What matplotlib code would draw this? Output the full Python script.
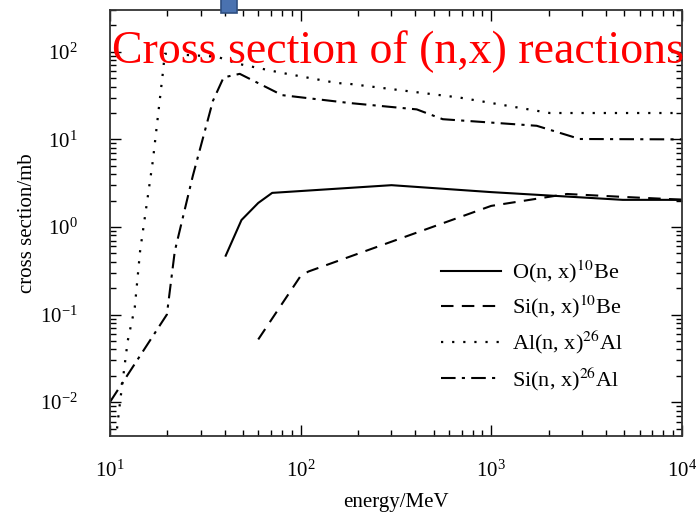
import matplotlib
matplotlib.use("Agg")
import matplotlib.pyplot as plt
from matplotlib.patches import Rectangle

plt.rcParams['font.family'] = ['Liberation Serif', 'DejaVu Serif']
plt.rcParams['mathtext.fontset'] = 'stix'

# O(n,x)10Be
o_be_e = [40.5, 49, 60, 71, 300, 1000, 4900, 10000]
o_be_s = [0.47, 1.2, 1.88, 2.45, 3.0, 2.5, 2.04, 2.04]

# Si(n,x)10Be
si_be_e = [60, 100, 110, 1000, 2500, 5000, 10000]
si_be_s = [0.052, 0.275, 0.31, 1.74, 2.38, 2.2, 2.05]

# Al(n,x)26Al
al_al_e = [10.9, 11.3, 12.4, 13.5, 14.4, 16.8, 19.0, 19.4, 36.4, 47, 78, 155, 181, 684, 2030, 10000]
al_al_s = [0.005, 0.01, 0.05, 0.12, 0.53, 5.7, 60, 95, 88, 73, 58, 44, 43, 30, 20, 20]

# Si(n,x)26Al
si_al_e = [10, 19.9, 21.9, 27.2, 34.7, 39.5, 48, 80, 181, 407, 557, 1733, 2917, 10000]
si_al_s = [0.01, 0.1, 0.53, 3.8, 27.5, 51, 56, 32, 26, 22, 17, 14.3, 10.1, 10]

fig = plt.figure(figsize=(7, 5.13), dpi=100)
ax = fig.add_axes([0.157, 0.150, 0.817, 0.8305])

ax.plot(o_be_e, o_be_s, color='black', lw=1.5, ls='-', label=r'O(n, x)$^{10}$Be')
ax.plot(si_be_e, si_be_s, color='black', lw=1.5, ls=(0, (6, 4)), label=r'Si(n, x)$^{10}$Be')
ax.plot(al_al_e, al_al_s, color='black', lw=1.6, ls=(0, (1, 4)), label=r'Al(n, x)$^{26}$Al')
ax.plot(si_al_e, si_al_s, color='black', lw=1.5, ls=(0, (7, 3, 1.5, 3)), label=r'Si(n, x)$^{26}$Al')

ax.set_xscale('log')
ax.set_yscale('log')
ax.set_xlim(10, 10000)
ax.set_ylim(0.0041, 300)

ax.tick_params(which='both', direction='in', top=True, right=True, labelsize=15, width=1)
ax.tick_params(which='major', length=8)
ax.tick_params(axis='x', which='major', pad=18)
ax.tick_params(axis='y', which='major', pad=23)
ax.tick_params(which='minor', length=4)
for s in ax.spines.values():
    s.set_linewidth(1.3)
    s.set_color('#333333')

ax.set_xlabel('energy/MeV', fontsize=15, labelpad=8)
ax.set_ylabel('cross section/mb', fontsize=15, labelpad=2)

ax.legend(loc='lower right', bbox_to_anchor=(0.933, 0.055), frameon=False, fontsize=16,
          handlelength=2.7, handletextpad=0.5, labelspacing=0.4)

fig.text(0.568, 0.9, 'Cross section of (n,x) reactions', color='red', fontsize=33,
         ha='center', va='center')

fig.patches.append(Rectangle((0.315, 0.975), 0.024, 0.03, transform=fig.transFigure,
                             facecolor='#4a72b0', edgecolor='#2f4f80', lw=1.2))

fig.savefig('out.png', dpi=100)
